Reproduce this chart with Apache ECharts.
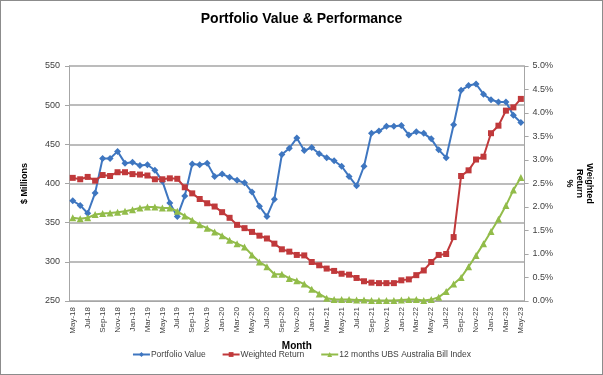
<!DOCTYPE html>
<html>
<head>
<meta charset="utf-8">
<script src="https://cdn.jsdelivr.net/npm/echarts@6/dist/echarts.min.js"></script>
<style>
  html, body { margin: 0; padding: 0; background: #fff; }
  #chart { width: 601px; height: 373px; border: 1px solid #8c8c8c; }
</style>
</head>
<body>
<div id="chart"></div>
<script>
const months = ['May-18','Jun-18','Jul-18','Aug-18','Sep-18','Oct-18','Nov-18','Dec-18',
  'Jan-19','Feb-19','Mar-19','Apr-19','May-19','Jun-19','Jul-19','Aug-19','Sep-19','Oct-19','Nov-19','Dec-19',
  'Jan-20','Feb-20','Mar-20','Apr-20','May-20','Jun-20','Jul-20','Aug-20','Sep-20','Oct-20','Nov-20','Dec-20',
  'Jan-21','Feb-21','Mar-21','Apr-21','May-21','Jun-21','Jul-21','Aug-21','Sep-21','Oct-21','Nov-21','Dec-21',
  'Jan-22','Feb-22','Mar-22','Apr-22','May-22','Jun-22','Jul-22','Aug-22','Sep-22','Oct-22','Nov-22','Dec-22',
  'Jan-23','Feb-23','Mar-23','Apr-23','May-23']

// $ millions
const portfolioValue = [378, 372, 362, 388, 432, 432, 441, 426, 427, 423, 424, 417,
  403, 375, 358, 384, 425, 424, 426, 409, 412, 408, 404, 401,
  389, 371, 358, 380, 437, 445, 458, 442, 446, 438, 433, 429,
  422, 409, 397, 422, 464, 467, 473, 473, 474, 462, 466, 464,
  457, 443, 433, 475, 519, 525, 527, 514, 507, 504, 504, 487, 478]

// percent
const weightedReturn = [2.62, 2.59, 2.64, 2.56, 2.68, 2.66, 2.74, 2.74, 2.70, 2.69, 2.67, 2.59,
  2.59, 2.61, 2.60, 2.42, 2.29, 2.17, 2.08, 2.01, 1.89, 1.77, 1.62, 1.55,
  1.47, 1.39, 1.33, 1.22, 1.10, 1.05, 0.98, 0.97, 0.83, 0.76, 0.69, 0.64,
  0.58, 0.56, 0.49, 0.42, 0.39, 0.38, 0.38, 0.38, 0.44, 0.46, 0.55, 0.65,
  0.83, 0.98, 1.00, 1.36, 2.66, 2.78, 3.01, 3.07, 3.57, 3.73, 4.05, 4.12, 4.30]

const billIndex = [1.77, 1.75, 1.77, 1.84, 1.86, 1.87, 1.89, 1.91, 1.94, 1.98, 2.00, 2.00,
  1.98, 1.98, 1.91, 1.81, 1.72, 1.62, 1.55, 1.47, 1.39, 1.29, 1.22, 1.15,
  0.98, 0.83, 0.73, 0.57, 0.57, 0.48, 0.43, 0.36, 0.25, 0.15, 0.06, 0.03,
  0.03, 0.03, 0.02, 0.02, 0.01, 0.01, 0.01, 0.01, 0.02, 0.03, 0.03, 0.01,
  0.03, 0.08, 0.20, 0.36, 0.50, 0.73, 0.97, 1.22, 1.48, 1.74, 2.03, 2.36, 2.63]

const chart = echarts.init(document.getElementById('chart'))
const font = 'Liberation Sans, Arial, sans-serif'
const labelColor = '#404040'
const gridColor = '#a6a6a6'

chart.setOption({
  animation: false,
  textStyle: { fontFamily: font },
  title: {
    text: 'Portfolio Value & Performance',
    left: 'center',
    top: 6,
    textStyle: { fontSize: 14, fontWeight: 'bold', color: '#000', fontFamily: font }
  },
  legend: {
    bottom: 10,
    left: 'center',
    itemWidth: 17,
    itemHeight: 6,
    itemGap: 16,
    textStyle: { fontSize: 8.5, color: labelColor, padding: [0, 0, 0, -4] },
    data: ['Portfolio Value', 'Weighted Return', '12 months UBS Australia Bill Index']
  },
  grid: { left: 68, right: 75, top: 65, bottom: 73 },
  xAxis: {
    type: 'category',
    data: months,
    boundaryGap: true,
    name: 'Month',
    nameLocation: 'middle',
    nameGap: 38,
    nameTextStyle: { fontSize: 10, fontWeight: 'bold', color: '#000' },
    axisLine: { lineStyle: { color: gridColor, width: 1 } },
    axisTick: { interval: 1, length: 4, lineStyle: { color: gridColor } },
    axisLabel: { interval: 1, rotate: 90, fontSize: 8, color: labelColor, margin: 6 }
  },
  yAxis: [
    {
      type: 'value',
      min: 250,
      max: 550,
      interval: 50,
      name: '$ Millions',
      nameLocation: 'middle',
      nameGap: 40,
      nameTextStyle: { fontSize: 9, fontWeight: 'bold', color: '#000' },
      axisLine: { show: true, lineStyle: { color: gridColor } },
      axisTick: { show: true, length: 4, lineStyle: { color: gridColor } },
      axisLabel: { fontSize: 9, color: labelColor, margin: 9 },
      splitLine: { lineStyle: { color: gridColor, width: 1.5 } }
    },
    {
      type: 'value',
      min: 0,
      max: 5,
      interval: 0.5,
      name: 'Weighted\nReturn\n%',
      nameLocation: 'middle',
      nameGap: 30,
      nameRotate: -90,
      nameTextStyle: { fontSize: 9, fontWeight: 'bold', color: '#000', lineHeight: 10, align: 'center' },
      axisLine: { show: true, lineStyle: { color: gridColor } },
      axisTick: { show: true, length: 4, lineStyle: { color: gridColor } },
      axisLabel: { fontSize: 9, color: labelColor, margin: 8, formatter: v => v.toFixed(1) + '%' },
      splitLine: { show: false }
    }
  ],
  series: [
    {
      name: 'Portfolio Value',
      type: 'line',
      yAxisIndex: 0,
      data: portfolioValue,
      symbol: 'diamond',
      symbolSize: 7,
      showAllSymbol: true,
      color: '#3e76c0',
      lineStyle: { width: 2 }
    },
    {
      name: 'Weighted Return',
      type: 'line',
      yAxisIndex: 1,
      data: weightedReturn,
      symbol: 'rect',
      symbolSize: 6,
      showAllSymbol: true,
      color: '#c0393b',
      lineStyle: { width: 2 }
    },
    {
      name: '12 months UBS Australia Bill Index',
      type: 'line',
      yAxisIndex: 1,
      data: billIndex,
      symbol: 'triangle',
      symbolSize: 7,
      showAllSymbol: true,
      color: '#92bc4a',
      lineStyle: { width: 2 }
    }
  ]
})
</script>
</body>
</html>
